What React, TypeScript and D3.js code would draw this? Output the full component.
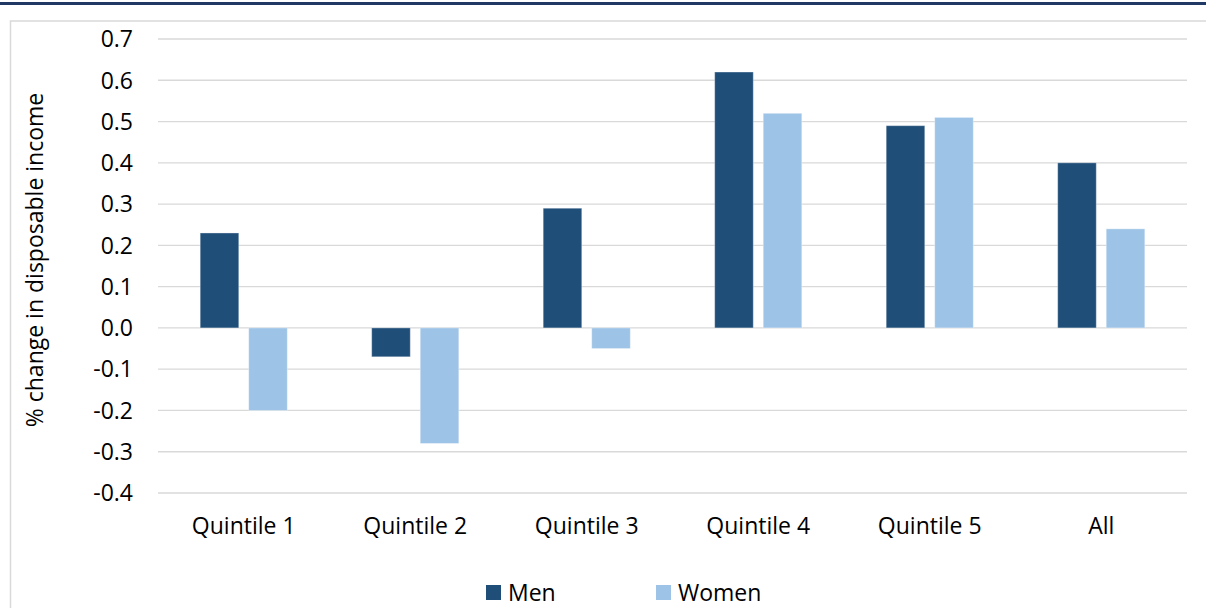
import React from "react";
import * as d3 from "d3";

const categories = ["Quintile 1", "Quintile 2", "Quintile 3", "Quintile 4", "Quintile 5", "All"];
const seriesNames = ["Men", "Women"];
const menValues = [0.23, -0.07, 0.29, 0.62, 0.49, 0.4];
const womenValues = [-0.2, -0.28, -0.05, 0.52, 0.51, 0.24];
const yTicks = [0.7, 0.6, 0.5, 0.4, 0.3, 0.2, 0.1, 0.0, -0.1, -0.2, -0.3, -0.4];
const colors = ["#1f4e79", "#9dc3e6"];
const yTitle = "% change in disposable income";

const W = 1206;
const H = 608;
const FONT = "'Open Sans', 'Noto Sans', sans-serif";
const FS = 23;

export default function App() {
  const x0 = d3.scaleBand<string>().domain(categories).range([158, 1187]).paddingInner(0).paddingOuter(0);
  const y = d3.scaleLinear().domain([-0.4, 0.7]).range([493, 39]);
  const bw = x0.bandwidth();
  const barW = bw * 0.225;
  const gap = bw * 0.058;
  const series = [menValues, womenValues];
  const fmt = (t: number) => d3.format(".1f")(t).replace("\u2212", "-");

  return (
    <div style={{ position: "absolute", left: 0, top: 0 }}>
      <svg width={W} height={H} style={{ display: "block", background: "#fff" }}>
        <rect x={0} y={2} width={W} height={3} fill="#1f3864" />
        <rect x={10.5} y={21} width={1210} height={620} fill="none" stroke="#d9d9d9" strokeWidth={1.5} />
        {yTicks.map((t) => (
          <g key={t}>
            <line x1={158} x2={1187} y1={y(t)} y2={y(t)} stroke="#d9d9d9" strokeWidth={1.3} />
            <text x={133} y={y(t)} dy="0.36em" textAnchor="end" fontFamily={FONT} fontSize={FS} fill="#000">
              {fmt(t)}
            </text>
          </g>
        ))}
        {categories.map((c, i) => {
          const bx = x0(c)!;
          const start = bx + (bw - (2 * barW + gap)) / 2;
          return (
            <g key={c}>
              {series.map((vals, s) => {
                const v = vals[i];
                const xx = start + s * (barW + gap);
                const y1 = Math.min(y(v), y(0));
                const h = Math.abs(y(v) - y(0));
                return (
                  <rect
                    key={s}
                    x={xx}
                    y={y1}
                    width={barW}
                    height={h}
                    fill={colors[s]}
                    stroke="#ffffff"
                    strokeOpacity={0.35}
                    strokeWidth={1}
                  />
                );
              })}
              <text x={bx + bw / 2} y={534} textAnchor="middle" fontFamily={FONT} fontSize={FS} fill="#000">
                {c}
              </text>
            </g>
          );
        })}
        <text
          transform={`translate(43, 260) rotate(-90)`}
          textAnchor="middle"
          fontFamily={FONT}
          fontSize={FS}
          fill="#000"
        >
          {yTitle}
        </text>
        {seriesNames.map((n, i) => {
          const lx = i === 0 ? 486 : 656;
          return (
            <g key={n}>
              <rect x={lx} y={585} width={15} height={15} fill={colors[i]} />
              <text x={lx + 22} y={601} fontFamily={FONT} fontSize={FS} fill="#000">
                {n}
              </text>
            </g>
          );
        })}
      </svg>
    </div>
  );
}
